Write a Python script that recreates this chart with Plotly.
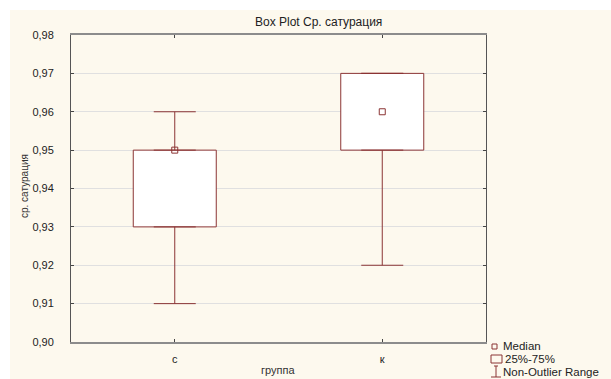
import plotly.graph_objects as go

# ---- data ----
groups = ["с", "к"]
minimum = [0.91, 0.92]
q1 = [0.93, 0.95]
median = [0.95, 0.96]
q3 = [0.95, 0.97]
maximum = [0.96, 0.97]

title_text = "Box Plot Ср. сатурация"
y_title = "ср. сатурация"
x_title = "группа"
legend_labels = ["Median", "25%-75%", "Non-Outlier Range"]

RED = "#8b3434"
FONT = "Arial, Liberation Sans, sans-serif"
xs = list(range(len(groups)))

fig = go.Figure()

# boxes 25%-75%
fig.add_trace(go.Bar(
    x=xs, y=[b - a for a, b in zip(q1, q3)], base=q1, width=0.4,
    marker=dict(color="white", line=dict(color=RED, width=1)),
    showlegend=False, hoverinfo="skip"))

# upper whiskers
fig.add_trace(go.Scatter(
    x=xs, y=q3, mode="markers",
    marker=dict(size=1, color="rgba(0,0,0,0)"),
    error_y=dict(type="data", symmetric=False,
                 array=[m - b for b, m in zip(q3, maximum)],
                 arrayminus=[0] * len(xs), color=RED, thickness=1, width=21),
    showlegend=False, hoverinfo="skip"))
# lower whiskers
fig.add_trace(go.Scatter(
    x=xs, y=q1, mode="markers",
    marker=dict(size=1, color="rgba(0,0,0,0)"),
    error_y=dict(type="data", symmetric=False,
                 array=[0] * len(xs),
                 arrayminus=[a - m for a, m in zip(q1, minimum)],
                 color=RED, thickness=1, width=21),
    showlegend=False, hoverinfo="skip"))
# medians
fig.add_trace(go.Scatter(
    x=xs, y=median, mode="markers",
    marker=dict(symbol="square-open", size=6, color=RED, line=dict(width=1, color=RED)),
    showlegend=False, hoverinfo="skip"))

L, R, T, B = 71, 125, 35, 37
W, H = 611, 379
pw, ph = W - L - R, H - T - B


def px(x):
    return (x - L) / pw


def py(y):
    return (H - B - y) / ph


shapes = [
    # cream panel
    dict(type="rect", xref="paper", yref="paper", x0=px(10), x1=px(W + 5), y0=py(H + 5), y1=py(10),
         fillcolor="#fdf9ee", line=dict(width=0), layer="below"),
    # legend symbols
    dict(type="rect", xref="paper", yref="paper", x0=px(492), x1=px(497), y0=py(349), y1=py(344),
         line=dict(color=RED, width=1), fillcolor="rgba(0,0,0,0)"),
    dict(type="rect", xref="paper", yref="paper", x0=px(491), x1=px(502), y0=py(363), y1=py(355),
         line=dict(color=RED, width=1), fillcolor="rgba(0,0,0,0)"),
    dict(type="line", xref="paper", yref="paper", x0=px(496), x1=px(496), y0=py(377), y1=py(366),
         line=dict(color=RED, width=1)),
    dict(type="line", xref="paper", yref="paper", x0=px(494), x1=px(498), y0=py(366), y1=py(366),
         line=dict(color=RED, width=1)),
    dict(type="line", xref="paper", yref="paper", x0=px(491), x1=px(501), y0=py(377), y1=py(377),
         line=dict(color=RED, width=1)),
]

ann = [
    dict(text=title_text, x=px(318), y=py(22), xref="paper", yref="paper", showarrow=False,
         font=dict(size=12, color="#222", family=FONT), xanchor="center", yanchor="middle"),
    dict(text=y_title, x=px(24), y=py(186), xref="paper", yref="paper", showarrow=False, textangle=-90,
         font=dict(size=10, color="#333", family=FONT), xanchor="center", yanchor="middle"),
    dict(text=x_title, x=px(278), y=py(370), xref="paper", yref="paper", showarrow=False,
         font=dict(size=11, color="#333", family=FONT), xanchor="center", yanchor="middle"),
]
for lab, xx, yy in zip(legend_labels, [501, 503, 501], [346, 359, 371.5]):
    ann.append(dict(text=lab, x=px(xx), y=py(yy), xref="paper", yref="paper", showarrow=False,
                    font=dict(size=11.5, color="#222", family=FONT), xanchor="left", yanchor="middle"))

fig.update_layout(
    width=W, height=H,
    margin=dict(l=L, r=R, t=T, b=B, pad=0),
    paper_bgcolor="white", plot_bgcolor="white",
    separators=", ",
    showlegend=False,
    shapes=shapes, annotations=ann,
    font=dict(family=FONT, size=11, color="#222"),
)
fig.update_xaxes(range=[-0.5, 1.5], tickvals=xs, ticktext=groups, showgrid=False, zeroline=False,
                 showline=True, linecolor="#8c8c8c", linewidth=2, mirror="ticks",
                 ticks="inside", ticklen=3, tickcolor="#444", tickfont=dict(size=11, color="#222"),
                 ticklabelstandoff=6)
fig.update_yaxes(range=[0.90, 0.98], dtick=0.01, tick0=0.90, tickformat=".2f", showgrid=True,
                 gridcolor="#e0e0e0", gridwidth=1, zeroline=False,
                 showline=True, linecolor="#555", linewidth=1, mirror="ticks",
                 ticks="inside", ticklen=3, tickcolor="#444", tickfont=dict(size=11, color="#222"),
                 ticklabelstandoff=14)

fig.write_html("out.html", config={"displayModeBar": False},
               post_script="document.body.style.margin='0';document.body.style.overflow='hidden';")
